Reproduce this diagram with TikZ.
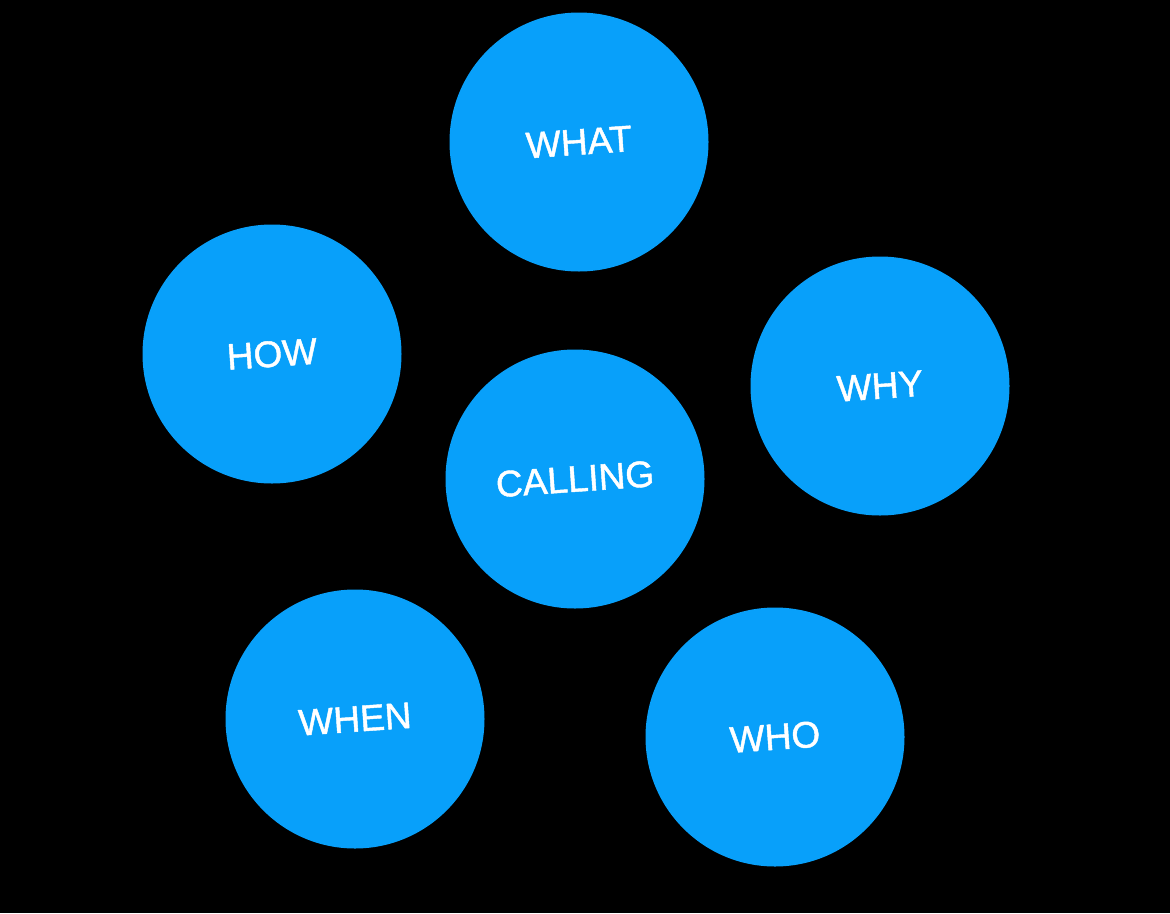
\documentclass[tikz,border=0pt]{standalone}
\usepackage{fontspec}
\setmainfont{Liberation Sans}
\newfontfamily\lblfont[FakeBold=1.2]{Liberation Sans}
\definecolor{bub}{RGB}{8,160,250}
\begin{document}
\begin{tikzpicture}[x=1pt,y=-1pt,
  bubble/.style={circle,fill=bub,minimum size=259pt,inner sep=0pt},
  lbl/.style={text=white,font=\lblfont\fontsize{37}{40}\selectfont,rotate=4}]
\fill[black] (0,0) rectangle (1170,913);
\useasboundingbox (0,0) rectangle (1170,913);
\node[bubble] (what) at (579,142) {};
\node[bubble] (how) at (272,354) {};
\node[bubble] (why) at (880,386) {};
\node[bubble] (calling) at (575,479) {};
\node[bubble] (when) at (355,719) {};
\node[bubble] (who) at (775,737) {};
\node[lbl] (twhat) at (what) {WHAT};
\node[lbl] (thow) at (how) {HOW};
\node[lbl] (twhy) at (why) {WHY};
\node[lbl] (tcalling) at (calling) {CALLING};
\node[lbl] (twhen) at (when) {WHEN};
\node[lbl] (twho) at (who) {WHO};
\end{tikzpicture}
\end{document}
